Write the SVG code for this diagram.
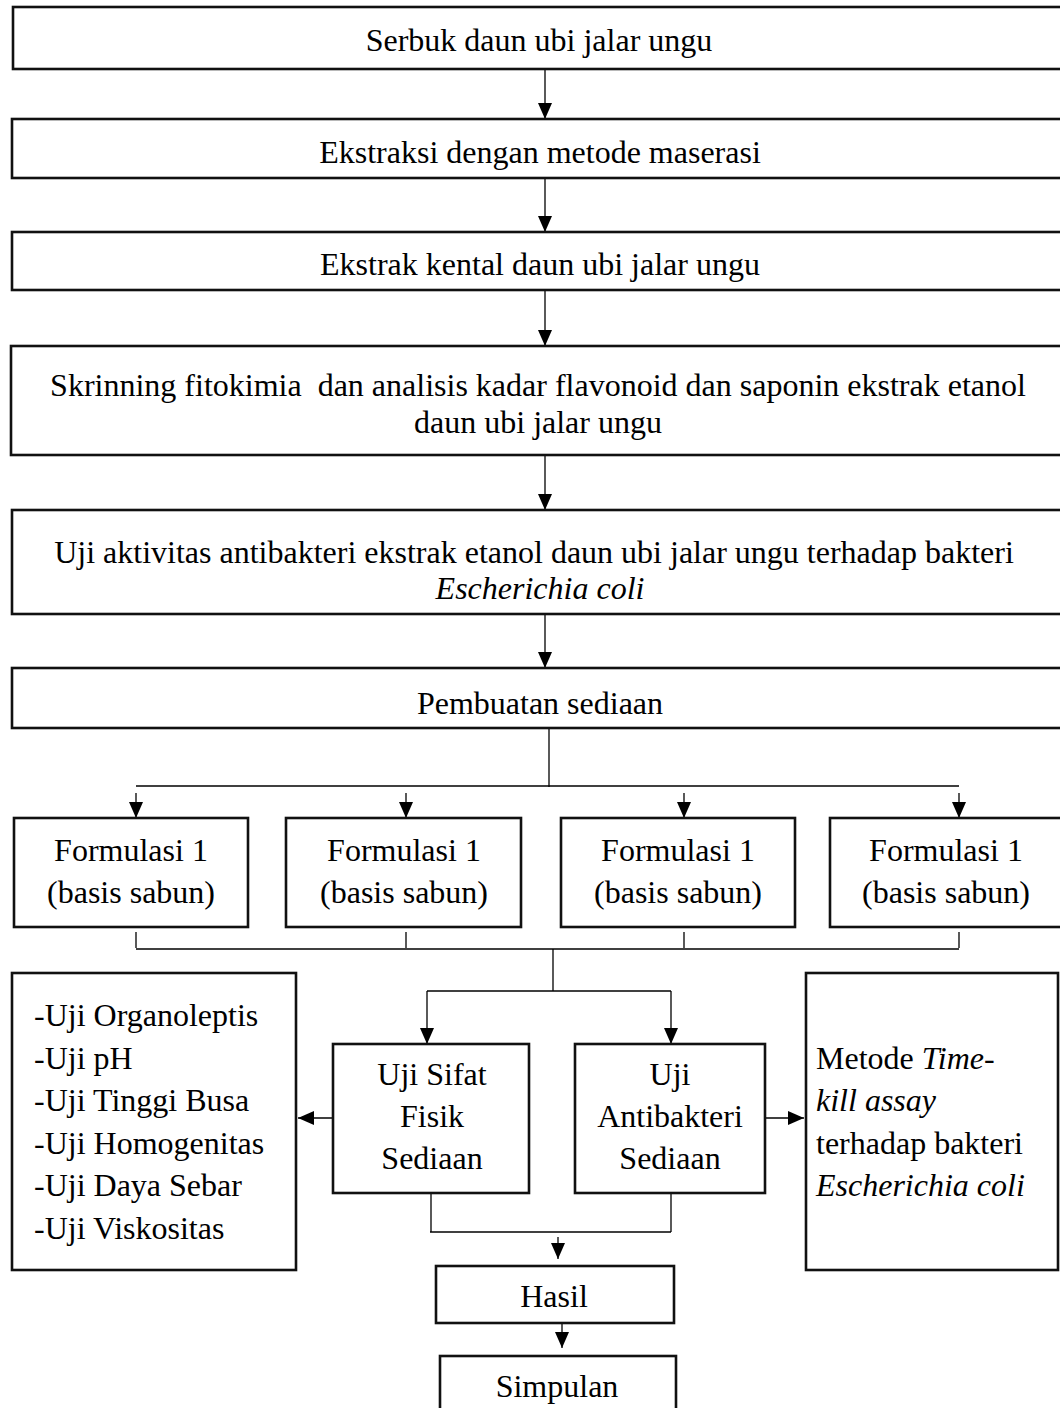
<svg xmlns="http://www.w3.org/2000/svg" width="1060" height="1408" viewBox="0 0 1060 1408">
<style>
.box{fill:#fff;stroke:#111;stroke-width:2.6}
.t{font-family:"Liberation Serif","Times New Roman",serif;font-size:32px;fill:#000}
.c{text-anchor:middle}
.i{font-style:italic}
.ln{fill:none;stroke:#000;stroke-width:1.3}
</style>
<defs>
<marker id="ah" markerUnits="userSpaceOnUse" markerWidth="16" markerHeight="14" refX="16" refY="7" orient="auto" viewBox="0 0 16 14">
<path d="M0,0 L16,7 L0,14 Z" fill="#000"/>
</marker>
</defs>
<rect width="1060" height="1408" fill="#fff"/>

<g id="connectors">
<line class="ln" x1="545" y1="69" x2="545" y2="119" marker-end="url(#ah)"/>
<line class="ln" x1="545" y1="178" x2="545" y2="232" marker-end="url(#ah)"/>
<line class="ln" x1="545" y1="290" x2="545" y2="346" marker-end="url(#ah)"/>
<line class="ln" x1="545" y1="455" x2="545" y2="510" marker-end="url(#ah)"/>
<line class="ln" x1="545" y1="614" x2="545" y2="668" marker-end="url(#ah)"/>
<line class="ln" x1="549" y1="728" x2="549" y2="787"/>
<line class="ln" x1="136" y1="786" x2="959" y2="786"/>
<line class="ln" x1="136" y1="793" x2="136" y2="818" marker-end="url(#ah)"/>
<line class="ln" x1="406" y1="793" x2="406" y2="818" marker-end="url(#ah)"/>
<line class="ln" x1="684" y1="793" x2="684" y2="818" marker-end="url(#ah)"/>
<line class="ln" x1="959" y1="793" x2="959" y2="818" marker-end="url(#ah)"/>
<line class="ln" x1="136" y1="932" x2="136" y2="948"/>
<line class="ln" x1="406" y1="932" x2="406" y2="948"/>
<line class="ln" x1="684" y1="932" x2="684" y2="948"/>
<line class="ln" x1="959" y1="932" x2="959" y2="948"/>
<line class="ln" x1="136" y1="949" x2="959" y2="949"/>
<line class="ln" x1="553" y1="949" x2="553" y2="991"/>
<line class="ln" x1="427" y1="991" x2="671" y2="991"/>
<line class="ln" x1="427" y1="991" x2="427" y2="1044" marker-end="url(#ah)"/>
<line class="ln" x1="671" y1="991" x2="671" y2="1044" marker-end="url(#ah)"/>
<line class="ln" x1="333" y1="1118" x2="298" y2="1118" marker-end="url(#ah)"/>
<line class="ln" x1="765" y1="1118" x2="804" y2="1118" marker-end="url(#ah)"/>
<line class="ln" x1="431" y1="1193" x2="431" y2="1232"/>
<line class="ln" x1="671" y1="1193" x2="671" y2="1232"/>
<line class="ln" x1="430" y1="1232" x2="671" y2="1232"/>
<line class="ln" x1="558" y1="1237" x2="558" y2="1259" marker-end="url(#ah)"/>
<line class="ln" x1="562" y1="1323" x2="562" y2="1348" marker-end="url(#ah)"/>
</g>

<g id="n1">
<rect class="box" x="13" y="7" width="1060" height="62"/>
<text class="t c" x="539" y="51">Serbuk daun ubi jalar ungu</text>
</g>
<g id="n2">
<rect class="box" x="12" y="119" width="1060" height="59"/>
<text class="t c" x="540" y="163">Ekstraksi dengan metode maserasi</text>
</g>
<g id="n3">
<rect class="box" x="12" y="232" width="1060" height="58"/>
<text class="t c" x="540" y="275">Ekstrak kental daun ubi jalar ungu</text>
</g>
<g id="n4">
<rect class="box" x="11" y="346" width="1060" height="109"/>
<text class="t c" x="538" y="396" xml:space="preserve">Skrinning fitokimia  dan analisis kadar flavonoid dan saponin ekstrak etanol</text>
<text class="t c" x="538" y="433">daun ubi jalar ungu</text>
</g>
<g id="n5">
<rect class="box" x="12" y="510" width="1060" height="104"/>
<text class="t c" x="534" y="563">Uji aktivitas antibakteri ekstrak etanol daun ubi jalar ungu terhadap bakteri</text>
<text class="t c i" x="540" y="599">Escherichia coli</text>
</g>
<g id="n6">
<rect class="box" x="12" y="668" width="1060" height="60"/>
<text class="t c" x="540" y="714">Pembuatan sediaan</text>
</g>

<g id="f1">
<rect class="box" x="14" y="818" width="234" height="109"/>
<text class="t c" x="131" y="861">Formulasi 1</text>
<text class="t c" x="131" y="903">(basis sabun)</text>
</g>
<g id="f2">
<rect class="box" x="286" y="818" width="235" height="109"/>
<text class="t c" x="404" y="861">Formulasi 1</text>
<text class="t c" x="404" y="903">(basis sabun)</text>
</g>
<g id="f3">
<rect class="box" x="561" y="818" width="234" height="109"/>
<text class="t c" x="678" y="861">Formulasi 1</text>
<text class="t c" x="678" y="903">(basis sabun)</text>
</g>
<g id="f4">
<rect class="box" x="830" y="818" width="240" height="109"/>
<text class="t c" x="946" y="861">Formulasi 1</text>
<text class="t c" x="946" y="903">(basis sabun)</text>
</g>

<g id="left-list">
<rect class="box" x="12" y="973" width="284" height="297"/>
<text class="t" x="34" y="1026">-Uji Organoleptis</text>
<text class="t" x="34" y="1068.5">-Uji pH</text>
<text class="t" x="34" y="1111">-Uji Tinggi Busa</text>
<text class="t" x="34" y="1153.5">-Uji Homogenitas</text>
<text class="t" x="34" y="1196">-Uji Daya Sebar</text>
<text class="t" x="34" y="1238.5">-Uji Viskositas</text>
</g>

<g id="fisik">
<rect class="box" x="333" y="1044" width="196" height="149"/>
<text class="t c" x="432" y="1085">Uji Sifat</text>
<text class="t c" x="432" y="1127">Fisik</text>
<text class="t c" x="432" y="1169">Sediaan</text>
</g>

<g id="antibakteri">
<rect class="box" x="575" y="1044" width="190" height="149"/>
<text class="t c" x="670" y="1085">Uji</text>
<text class="t c" x="670" y="1127">Antibakteri</text>
<text class="t c" x="670" y="1169">Sediaan</text>
</g>

<g id="right-box">
<rect class="box" x="806" y="973" width="252" height="297"/>
<text class="t" x="816" y="1068.5">Metode <tspan class="i">Time-</tspan></text>
<text class="t i" x="816" y="1111">kill assay</text>
<text class="t" x="816" y="1153.5">terhadap bakteri</text>
<text class="t i" x="816" y="1196">Escherichia coli</text>
</g>

<g id="hasil">
<rect class="box" x="436" y="1266" width="238" height="57"/>
<text class="t c" x="554" y="1307">Hasil</text>
</g>
<g id="simpulan">
<rect class="box" x="440" y="1356" width="236" height="70"/>
<text class="t c" x="557" y="1397">Simpulan</text>
</g>
</svg>
